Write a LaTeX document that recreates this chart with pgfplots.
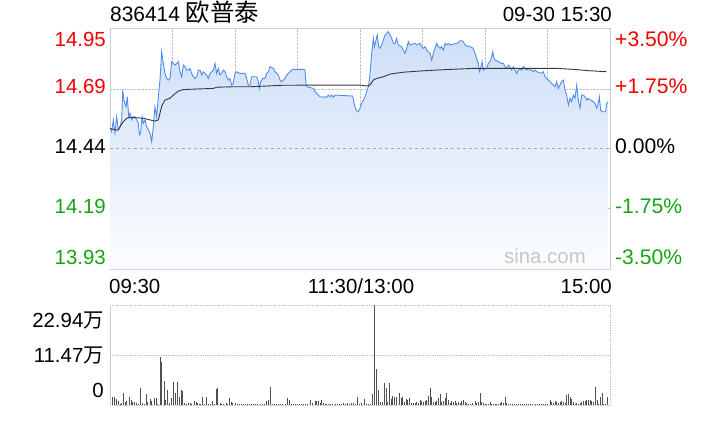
\documentclass[border=0pt]{standalone}
\usepackage{fontspec}
\setmainfont{Liberation Sans}
\newfontfamily\cjk{Noto Sans CJK SC}
\usepackage{pgfplots}
\usepackage{pgfplotstable}
\pgfplotsset{compat=1.18}
\definecolor{priceblue}{RGB}{80,140,235}
\definecolor{fillTop}{RGB}{205,222,248}
\definecolor{fillBot}{RGB}{252,253,255}
\definecolor{avgline}{RGB}{55,55,55}
\definecolor{framegray}{RGB}{205,205,205}
\definecolor{gridgray}{RGB}{195,195,195}
\definecolor{upred}{RGB}{240,0,0}
\definecolor{dngreen}{RGB}{20,165,20}
\definecolor{volgray}{RGB}{80,80,80}

\pgfplotstableread{
m p
0 14.525
0.8 14.510
1.6 14.560
2.4 14.504
3.2 14.573
4.0 14.518
4.8 14.531
5.6 14.560
6.1 14.685
6.7 14.643
7.7 14.615
8.3 14.657
9.0 14.573
9.6 14.588
10.4 14.560
11.2 14.573
12.0 14.573
12.8 14.560
13.6 14.546
14.1 14.497
14.7 14.504
15.4 14.573
16.0 14.546
16.8 14.560
17.6 14.531
18.4 14.518
19.2 14.504
20.0 14.469
20.8 14.531
21.6 14.615
22.4 14.573
23.2 14.657
24.0 14.727
24.8 14.846
25.6 14.797
26.4 14.755
27.2 14.734
28.0 14.727
28.8 14.734
29.6 14.804
30.4 14.797
31.2 14.790
32.0 14.797
32.8 14.804
33.6 14.762
34.4 14.741
35.2 14.790
36.0 14.783
36.8 14.769
37.6 14.769
38.4 14.776
39.2 14.755
40.0 14.741
40.8 14.734
41.6 14.741
42.4 14.769
43.2 14.769
44.0 14.748
44.8 14.762
45.6 14.755
46.4 14.748
47.2 14.734
48.0 14.755
48.8 14.762
49.6 14.769
50.4 14.797
51.2 14.755
52.0 14.776
52.8 14.748
53.6 14.755
54.4 14.769
55.2 14.762
56.0 14.741
56.8 14.727
57.6 14.734
58.4 14.706
59.2 14.713
60.0 14.755
60.8 14.762
62.4 14.755
64.0 14.755
64.8 14.755
65.6 14.734
66.4 14.706
67.2 14.706
68.0 14.741
70.4 14.741
71.2 14.720
71.7 14.692
72.3 14.720
73.3 14.734
74.4 14.734
75.2 14.755
76.0 14.762
76.8 14.783
78.4 14.776
79.2 14.762
80.8 14.748
81.6 14.727
82.4 14.720
83.2 14.727
84.0 14.734
84.8 14.748
85.6 14.755
87.2 14.769
88.0 14.772
92.8 14.772
93.6 14.769
94.1 14.706
94.7 14.699
97.6 14.692
98.4 14.678
99.2 14.672
100.0 14.664
100.8 14.657
102.4 14.655
103.2 14.657
104.0 14.655
104.8 14.664
105.6 14.657
106.4 14.664
107.2 14.655
108.0 14.664
116.5 14.660
117.1 14.630
118.1 14.601
119.2 14.594
120.0 14.609
120.8 14.630
121.6 14.643
122.4 14.657
123.2 14.678
124.0 14.699
124.5 14.727
125.1 14.783
125.6 14.839
126.1 14.874
126.4 14.902
126.9 14.867
127.7 14.895
128.3 14.916
129.0 14.867
129.6 14.860
130.4 14.874
131.2 14.895
132.0 14.916
132.8 14.923
133.6 14.930
134.4 14.916
135.2 14.902
136.0 14.881
136.8 14.881
137.6 14.902
138.4 14.874
140.0 14.867
140.8 14.853
141.6 14.839
142.4 14.860
143.2 14.888
144.0 14.874
146.4 14.881
147.2 14.874
148.8 14.881
149.6 14.867
150.4 14.860
151.2 14.867
152.0 14.853
152.8 14.846
153.6 14.839
154.4 14.811
155.2 14.839
156.0 14.860
156.8 14.881
157.6 14.867
158.4 14.860
159.2 14.867
160.0 14.853
160.8 14.881
161.6 14.874
162.4 14.881
163.2 14.874
164.8 14.878
166.4 14.881
167.2 14.884
168.0 14.892
168.8 14.892
169.6 14.888
170.4 14.874
171.2 14.870
172.8 14.867
173.6 14.864
174.4 14.860
175.2 14.839
176.0 14.818
176.8 14.797
177.3 14.762
177.9 14.776
178.6 14.804
179.2 14.769
180.0 14.776
180.8 14.776
181.6 14.797
182.4 14.804
183.2 14.825
183.7 14.846
184.3 14.818
184.8 14.811
186.4 14.804
188.0 14.797
188.8 14.797
189.6 14.783
190.4 14.776
191.2 14.790
192.0 14.783
192.8 14.769
193.6 14.783
194.4 14.769
195.2 14.755
196.0 14.769
196.8 14.776
197.6 14.769
198.4 14.783
199.2 14.776
200.0 14.769
200.8 14.776
201.6 14.769
202.4 14.769
203.2 14.762
204.0 14.769
204.8 14.762
206.4 14.758
207.2 14.755
208.0 14.762
208.8 14.741
209.6 14.734
210.4 14.727
211.2 14.720
212.0 14.713
212.8 14.706
213.6 14.699
214.4 14.720
215.2 14.692
216.0 14.706
216.8 14.720
217.6 14.727
218.4 14.685
219.2 14.664
220.0 14.622
220.8 14.651
221.6 14.636
222.4 14.664
223.2 14.651
224.0 14.706
224.8 14.643
225.6 14.609
226.4 14.664
227.2 14.664
228.0 14.657
228.8 14.643
229.6 14.651
230.4 14.643
231.2 14.643
232.0 14.636
232.8 14.630
233.6 14.609
234.4 14.630
234.9 14.657
235.5 14.601
236.3 14.594
237.9 14.594
238.4 14.630
239.2 14.636
}\pricetable

\pgfplotstableread{
m a
0 14.525
2.4 14.518
4.0 14.518
4.8 14.531
6.4 14.552
8.0 14.567
9.6 14.571
12.8 14.569
16.0 14.567
19.2 14.560
21.6 14.555
23.2 14.560
24.0 14.588
24.8 14.618
26.4 14.643
28.8 14.651
30.4 14.664
32.8 14.681
35.2 14.687
43.2 14.690
49.6 14.692
51.2 14.697
59.2 14.699
67.2 14.699
75.2 14.702
81.6 14.705
97.6 14.706
120.0 14.706
123.2 14.702
124.8 14.706
126.4 14.727
128.0 14.734
131.2 14.741
134.4 14.752
140.8 14.760
148.8 14.765
156.8 14.769
166.4 14.773
174.4 14.776
182.4 14.776
198.4 14.776
214.4 14.776
222.4 14.772
230.4 14.766
238.4 14.762
}\avgtable

\pgfplotstableread{
m v
1.3 1.76
2.1 1.91
2.9 1.30
4.0 0.92
4.8 0.30
5.6 0.40
6.4 2.68
7.2 0.76
8.0 0.92
9.3 1.76
10.1 1.15
10.9 0.76
11.7 0.61
12.8 0.54
13.6 0.30
14.4 3.82
15.7 0.38
16.5 0.30
17.3 2.45
18.1 0.76
19.2 1.38
20.0 0.92
21.3 1.53
22.1 1.53
23.0 0.30
24.0 11.09
24.8 9.94
25.9 5.51
26.7 1.15
27.5 3.44
28.3 0.54
29.3 1.53
30.4 5.35
31.4 2.68
32.3 5.35
33.1 1.91
34.1 3.44
34.9 3.29
35.7 0.38
36.8 0.23
37.6 0.38
38.4 0.54
39.2 0.23
40.5 0.92
41.3 0.61
42.1 0.38
42.9 0.23
43.6 0.20
44.3 1.76
45.2 0.20
46.1 1.76
47.2 0.23
48.1 0.20
49.1 0.92
50.1 0.15
50.9 3.67
51.7 3.98
52.8 0.38
53.6 0.20
54.4 0.23
55.7 0.38
56.5 0.20
57.3 1.53
58.1 0.61
58.9 0.38
60.0 0.38
61 0.23
62 0.20
63 0.23
64 0.20
65 0.23
66 0.20
67 0.23
68 0.30
69 0.20
70 0.23
71 0.20
72 0.23
73 0.20
74 0.30
75.2 0.92
76.0 1.15
76.8 4.21
78 0.23
79 0.20
80 0.23
81 0.20
82 0.23
83 0.20
84 0.30
85.1 1.53
85.9 1.15
87 0.23
88 0.20
89 0.23
90 0.20
91 0.23
92 0.20
93 0.23
94 0.20
95 0.30
96.0 1.15
97 0.38
98.4 0.92
99.2 0.92
100.0 0.92
100.8 0.38
101.6 1.15
102.4 0.38
103.2 0.23
104 0.20
105 0.23
106 0.20
107 0.23
108 0.30
109 0.23
110 0.30
111 0.23
112 0.38
113 0.30
114 0.38
115 0.30
116.0 0.54
116.8 0.38
117.7 0.20
118.7 1.76
119.5 0.23
120.8 0.38
122.1 1.30
123.0 0.30
124.0 0.23
125.0 0.30
125.9 2.45
126.7 22.94
127.7 8.26
128.8 3.44
129.6 0.76
130.7 0.76
131.7 4.97
132.5 3.98
133.3 0.76
134.1 4.97
134.9 1.38
135.7 2.06
136.5 1.76
137.6 1.76
138.9 2.68
139.7 1.53
140.5 1.91
141.3 0.61
142.1 1.30
142.9 1.15
143.7 1.53
144.5 0.38
145.6 0.38
146.4 0.54
147.2 0.76
148.0 0.54
148.8 1.15
149.6 0.92
150.4 0.61
151.2 0.99
152.0 1.15
152.8 2.06
153.6 3.82
154.4 1.76
155.2 0.76
156.0 0.61
156.8 0.92
157.6 1.53
158.4 2.45
159.2 0.61
160.0 0.92
160.8 1.53
161.6 2.68
162.4 1.15
163.2 0.54
164.0 0.92
164.8 0.76
165.6 0.92
166.4 0.38
167.2 0.76
168.0 0.54
168.8 0.92
169.6 1.15
170.4 0.76
171.2 0.38
172.0 0.20
172.8 0.23
174.1 0.38
175.2 0.92
176.0 0.38
176.8 0.76
177.6 2.68
178.4 0.61
179.2 0.38
180.0 0.20
180.8 0.23
181.6 0.20
182.4 0.61
183.2 0.20
184.0 0.23
184.8 0.20
185.6 0.23
186.4 0.20
187.2 0.38
188.0 0.76
188.8 0.38
189.6 1.76
190.4 0.38
191.2 0.20
192.0 0.23
193 0.20
194 0.23
195 0.20
196 0.15
197 0.20
198 0.23
199 0.15
200 0.20
201 0.23
202 0.15
203 0.20
204 0.23
205 0.20
206 0.15
207 0.20
208 0.23
209 0.20
210 0.23
211.2 1.15
212.0 0.61
212.8 0.38
213.6 0.92
214.4 0.61
215.2 0.54
216.0 0.61
216.8 0.92
217.6 0.61
218.4 0.38
219.2 2.29
220.0 2.45
220.8 1.76
221.6 1.38
222.4 0.61
223.2 0.23
224.0 0.38
224.8 0.20
225.6 0.38
226.4 0.61
227.2 0.99
228.0 0.92
228.8 1.15
229.6 1.15
230.4 1.15
231.2 0.99
232.0 0.76
233.1 4.21
233.9 1.15
234.6 0.30
235.2 1.76
236.3 2.68
237.0 0.30
237.6 0.23
238.7 1.76
}\voltable

\begin{document}
\fontsize{20.5}{24}\selectfont
\begin{tikzpicture}[x=1bp,y=1bp]
\useasboundingbox (0,0) rectangle (720,420);

% ---------- price panel ----------
\begin{axis}[
  at={(110bp,151bp)}, anchor=south west,
  scale only axis, width=500bp, height=241bp,
  xmin=0, xmax=240, ymin=13.9346, ymax=14.9454,
  axis line style={draw=framegray, line width=0.8pt},
  xtick={30,60,90,120,150,180,210},
  ytick={14.19,14.44,14.69},
  xticklabels={}, yticklabels={},
  major tick length=0pt,
  grid=major, grid style={densely dotted, draw=gridgray, line width=0.7pt},
  clip=true,
]
\addplot[draw=none, top color=fillTop, bottom color=fillBot, forget plot]
  table[x=m, y=p] {\pricetable} -- (axis cs:239.2,13.9346) -- (axis cs:0,13.9346) -- cycle;
\draw[dashed, draw=gray!70, line width=0.6pt] (axis cs:0,14.44) -- (axis cs:240,14.44);
\addplot[color=priceblue, line width=0.9pt, mark=none] table[x=m, y=p] {\pricetable};
\addplot[color=avgline, line width=0.9pt, mark=none] table[x=m, y=a] {\avgtable};
\end{axis}

% ---------- volume panel ----------
\begin{axis}[
  at={(110bp,15bp)}, anchor=south west,
  scale only axis, width=500bp, height=100bp,
  xmin=0, xmax=240, ymin=0, ymax=22.94,
  axis line style={draw=none},
  xtick=\empty, ytick=\empty,
  clip=false,
]
\draw[densely dotted, draw=gridgray, line width=0.7pt] (rel axis cs:0,1) -- (rel axis cs:1,1) -- (rel axis cs:1,0) -- (rel axis cs:0,0);
\draw[densely dotted, draw=gridgray, line width=0.7pt] (axis cs:0,11.47) -- (axis cs:240,11.47);
\draw[draw=framegray, line width=0.8pt] (rel axis cs:0,0) -- (rel axis cs:0,1);
\addplot[ycomb, color=volgray, line width=0.9pt, mark=none] table[x=m, y=v] {\voltable};
\end{axis}

% ---------- texts ----------
\node[anchor=base west, inner sep=0pt, font=\fontsize{21}{24}\selectfont] at (110,398) {836414 {\cjk\fontsize{24.5}{26}\selectfont 欧普泰}};
\node[anchor=base east, inner sep=0pt] at (612,398) {09-30 15:30};

\node[anchor=east, inner sep=0pt, text=upred] at (106,380.5) {14.95};
\node[anchor=east, inner sep=0pt, text=upred] at (106,333.5) {14.69};
\node[anchor=east, inner sep=0pt, text=black] at (106,273.5) {14.44};
\node[anchor=east, inner sep=0pt, text=dngreen] at (106,213.3) {14.19};
\node[anchor=east, inner sep=0pt, text=dngreen] at (106,163) {13.93};

\begin{scope}[every node/.style={font=\fontsize{21.2}{24}\selectfont}]
\node[anchor=west, inner sep=0pt, text=upred] at (615,380.5) {+3.50\%};
\node[anchor=west, inner sep=0pt, text=upred] at (615,333.5) {+1.75\%};
\node[anchor=west, inner sep=0pt, text=black] at (615,273.5) {0.00\%};
\node[anchor=west, inner sep=0pt, text=dngreen] at (615,213.3) {-1.75\%};
\node[anchor=west, inner sep=0pt, text=dngreen] at (615,163) {-3.50\%};
\end{scope}

\node[anchor=east, inner sep=0pt, text=gray!45] at (586,164) {sina.com};

\node[anchor=base west, inner sep=0pt] at (109,127) {09:30};
\node[anchor=base, inner sep=0pt] at (361,127) {11:30/13:00};
\node[anchor=base east, inner sep=0pt] at (612,127) {15:00};

\node[anchor=east, inner sep=0pt] at (104,99) {22.94{\cjk 万}};
\node[anchor=east, inner sep=0pt] at (104,64) {11.47{\cjk 万}};
\node[anchor=east, inner sep=0pt] at (104,30) {0};
\end{tikzpicture}
\end{document}
